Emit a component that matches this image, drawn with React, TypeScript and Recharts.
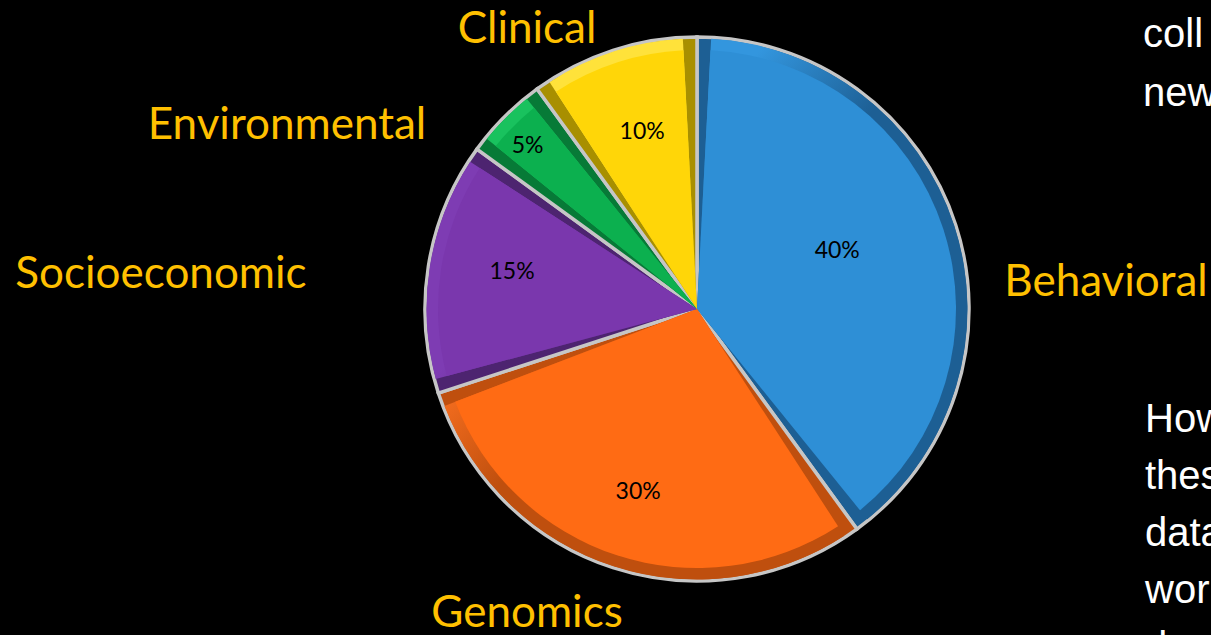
import { PieChart, Pie, Cell, Sector } from "recharts"

// slice order runs clockwise from 12 o'clock
const categories = ["Behavioral", "Genomics", "Socioeconomic", "Environmental", "Clinical"]
const shares = [40, 30, 15, 5, 10]
const shareLabels = ["40%", "30%", "15%", "5%", "10%"]

// cut-off slide text on the right edge
const noteTop = ["coll", "new"]
const noteBottom = ["How", "these", "data", "work", "d"]

const data = categories.map((name, i) => ({ name, value: shares[i], label: shareLabels[i] }))

const CX = 697
const CY = 309
const R = 272
const BEVEL = 3 // degrees cut off each radial edge
const RIM = 13 // px of bevel along the arc
const RAD = Math.PI / 180

const face: Record<string, string> = {
  Behavioral: "#2e8fd6",
  Genomics: "#ff6b14",
  Socioeconomic: "#7a37ad",
  Environmental: "#0cb04f",
  Clinical: "#ffd608"
}
const dark: Record<string, string> = {
  Behavioral: "#1d5f94",
  Genomics: "#bf4f0e",
  Socioeconomic: "#4d2470",
  Environmental: "#077a37",
  Clinical: "#a88f00"
}
const hi: Record<string, string> = {
  Behavioral: "#3396de",
  Genomics: "#ff7322",
  Socioeconomic: "#7e3cb3",
  Environmental: "#19c25e",
  Clinical: "#ffe23a"
}

// [radius factor, angle offset] for the percentage text
const pctPolar: Record<string, [number, number]> = {
  Behavioral: [0.56, 5],
  Genomics: [0.7, 0],
  Socioeconomic: [0.695, -3],
  Environmental: [0.87, 0.7],
  Clinical: [0.69, -1]
}
// category names as placed on the slide
const namePos: Record<string, { x: number; y: number }> = {
  Behavioral: { x: 1106, y: 296 },
  Genomics: { x: 527, y: 627 },
  Socioeconomic: { x: 161, y: 288 },
  Environmental: { x: 287, y: 139 },
  Clinical: { x: 527, y: 43 }
}

function SliceFace(props: any) {
  const { cx, cy, outerRadius, startAngle, endAngle, midAngle, name, index, payload } = props
  const s = startAngle - BEVEL
  const e = endAngle + BEVEL
  const [rf, da] = pctPolar[name]
  const a = (midAngle + da) * RAD
  const r = outerRadius * rf
  const pos = namePos[name]
  return (
    <g>
      <Sector cx={cx} cy={cy} innerRadius={0} outerRadius={outerRadius - 1.5} startAngle={s} endAngle={e} fill={`url(#rim-${index})`} stroke="none" />
      <Sector cx={cx} cy={cy} innerRadius={0} outerRadius={outerRadius - RIM} startAngle={s} endAngle={e} fill={face[name]} stroke="none" />
      <text x={cx + r * Math.cos(a)} y={cy - r * Math.sin(a)} textAnchor="middle" dominantBaseline="central" fontFamily="Lato" fontSize={23} fill="#000">
        {payload.label}
      </text>
      <text x={pos.x} y={pos.y} textAnchor="middle" fontFamily="Lato" fontSize={44} fill="#ffc000">
        {name}
      </text>
    </g>
  )
}

export default function App() {
  return (
    <div style={{ position: "relative", width: 1211, height: 635, background: "#000", overflow: "hidden" }}>
      <style>{"html,body{margin:0;padding:0;background:#000;overflow:hidden}"}</style>
      <PieChart width={1211} height={635} margin={{ top: 0, right: 0, bottom: 0, left: 0 }}>
        <defs>
          {categories.map((c, i) => (
            <linearGradient key={c} id={`rim-${i}`} gradientUnits="userSpaceOnUse" x1={CX - R} y1={CY - R} x2={CX + R} y2={CY + R}>
              <stop offset="0" stopColor={hi[c]} />
              <stop offset="0.32" stopColor={hi[c]} />
              <stop offset="0.48" stopColor={dark[c]} />
              <stop offset="1" stopColor={dark[c]} />
            </linearGradient>
          ))}
        </defs>
        <Pie
          data={data}
          dataKey="value"
          nameKey="name"
          cx={CX}
          cy={CY}
          outerRadius={R}
          startAngle={90}
          endAngle={-270}
          label={SliceFace}
          labelLine={false}
          isAnimationActive={false}
        >
          {data.map(d => (
            <Cell key={d.name} fill={dark[d.name]} stroke="#c6c6c6" strokeWidth={3.5} />
          ))}
        </Pie>
      </PieChart>
      <svg width={1211} height={635} style={{ position: "absolute", left: 0, top: 0, pointerEvents: "none" }}>
        {noteTop.map((t, i) => (
          <text key={t} x={1143} y={47 + i * 59} fontFamily="Liberation Sans, Arial" fontSize={40} fill="#fff">{t}</text>
        ))}
        {noteBottom.map((t, i) => (
          <text key={t} x={1145} y={432 + i * 57} fontFamily="Liberation Sans, Arial" fontSize={40} fill="#fff">{t}</text>
        ))}
      </svg>
    </div>
  )
}
